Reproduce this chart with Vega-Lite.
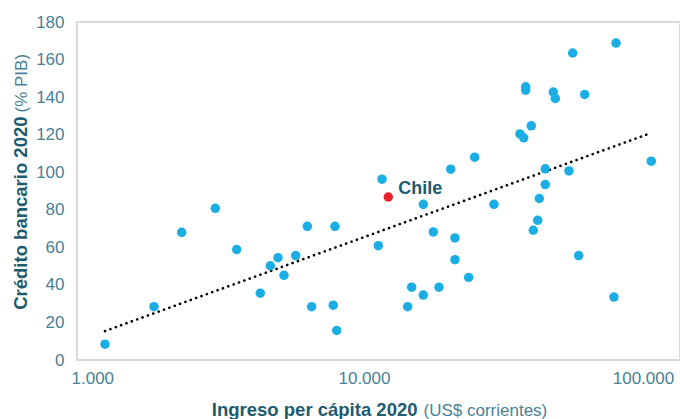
{
  "$schema": "https://vega.github.io/schema/vega-lite/v6.json",
  "width": 603,
  "height": 338,
  "autosize": {"type": "none"},
  "padding": {"left": 77, "top": 22, "right": 0, "bottom": 59},
  "background": "white",
  "config": {
    "font": "Liberation Sans",
    "view": {"stroke": "#d9d9d9", "strokeWidth": 2},
    "axis": {
      "labelFont": "Liberation Sans",
      "titleFont": "Liberation Sans",
      "labelFontSize": 17,
      "labelColor": "#4a8196",
      "gridColor": "#dadada",
      "gridWidth": 1.5,
      "ticks": false,
      "domain": false
    }
  },
  "data": {
    "values": [
      {"grupo": "Otros", "ingreso": 1260, "credito": 8.4},
      {"grupo": "Otros", "ingreso": 1888, "credito": 28.4},
      {"grupo": "Otros", "ingreso": 2373, "credito": 68},
      {"grupo": "Otros", "ingreso": 3131, "credito": 80.8},
      {"grupo": "Otros", "ingreso": 3736, "credito": 58.8},
      {"grupo": "Otros", "ingreso": 4539, "credito": 35.6},
      {"grupo": "Otros", "ingreso": 4930, "credito": 50.2},
      {"grupo": "Otros", "ingreso": 5253, "credito": 54.5},
      {"grupo": "Otros", "ingreso": 5520, "credito": 45.1},
      {"grupo": "Otros", "ingreso": 6080, "credito": 55.6},
      {"grupo": "Otros", "ingreso": 6690, "credito": 71.2},
      {"grupo": "Otros", "ingreso": 6937, "credito": 28.4},
      {"grupo": "Otros", "ingreso": 8290, "credito": 29.2},
      {"grupo": "Otros", "ingreso": 8408, "credito": 71.2},
      {"grupo": "Otros", "ingreso": 8527, "credito": 15.7},
      {"grupo": "Otros", "ingreso": 12020, "credito": 60.9},
      {"grupo": "Otros", "ingreso": 12395, "credito": 96.3},
      {"grupo": "Chile", "ingreso": 13055, "credito": 86.8},
      {"grupo": "Otros", "ingreso": 15320, "credito": 28.4},
      {"grupo": "Otros", "ingreso": 15830, "credito": 38.8},
      {"grupo": "Otros", "ingreso": 17430, "credito": 34.6},
      {"grupo": "Otros", "ingreso": 17430, "credito": 82.9},
      {"grupo": "Otros", "ingreso": 18930, "credito": 68.2},
      {"grupo": "Otros", "ingreso": 19840, "credito": 38.8},
      {"grupo": "Otros", "ingreso": 21850, "credito": 101.6},
      {"grupo": "Otros", "ingreso": 22640, "credito": 65},
      {"grupo": "Otros", "ingreso": 22640, "credito": 53.4},
      {"grupo": "Otros", "ingreso": 25340, "credito": 44},
      {"grupo": "Otros", "ingreso": 26630, "credito": 108},
      {"grupo": "Otros", "ingreso": 31230, "credito": 82.9},
      {"grupo": "Otros", "ingreso": 38700, "credito": 120.4},
      {"grupo": "Otros", "ingreso": 39920, "credito": 118.3},
      {"grupo": "Otros", "ingreso": 40580, "credito": 145.5},
      {"grupo": "Otros", "ingreso": 40580, "credito": 143.7},
      {"grupo": "Otros", "ingreso": 42490, "credito": 124.7},
      {"grupo": "Otros", "ingreso": 43200, "credito": 69.1},
      {"grupo": "Otros", "ingreso": 44800, "credito": 74.4},
      {"grupo": "Otros", "ingreso": 45400, "credito": 86},
      {"grupo": "Otros", "ingreso": 47700, "credito": 101.8},
      {"grupo": "Otros", "ingreso": 47700, "credito": 93.4},
      {"grupo": "Otros", "ingreso": 50950, "credito": 142.7},
      {"grupo": "Otros", "ingreso": 51800, "credito": 139.3},
      {"grupo": "Otros", "ingreso": 58000, "credito": 100.7},
      {"grupo": "Otros", "ingreso": 59800, "credito": 163.5},
      {"grupo": "Otros", "ingreso": 62850, "credito": 55.6},
      {"grupo": "Otros", "ingreso": 66020, "credito": 141.4},
      {"grupo": "Otros", "ingreso": 84070, "credito": 33.5},
      {"grupo": "Otros", "ingreso": 85500, "credito": 168.8},
      {"grupo": "Otros", "ingreso": 114400, "credito": 105.9}
    ]
  },
  "layer": [
    {
      "transform": [{"regression": "credito", "on": "ingreso", "method": "log"}],
      "mark": {"type": "line", "color": "black", "strokeWidth": 2.6, "strokeDash": [0.1, 5.6], "strokeCap": "round"},
      "encoding": {
        "x": {
          "field": "ingreso", "type": "quantitative",
          "scale": {"type": "log", "domain": [1000, 145000], "nice": false},
          "axis": {
            "orient": "bottom", "labels": false, "grid": false,
            "title": "(US$ corrientes)", "titleFontWeight": "normal", "titleFontSize": 17,
            "titleColor": "#4a8196", "titleAlign": "left", "titleAnchor": null,
            "titleX": 346, "titleY": 55, "titleBaseline": "alphabetic"
          }
        },
        "y": {
          "field": "credito", "type": "quantitative",
          "scale": {"domain": [0, 180], "nice": false},
          "axis": {
            "orient": "left", "labels": false, "grid": false,
            "title": "(% PIB)", "titleFontWeight": "normal", "titleFontSize": 17,
            "titleColor": "#4a8196", "titleAlign": "left", "titleAngle": -90,
            "titleX": -51, "titleY": 90, "titleBaseline": "alphabetic"
          }
        }
      }
    },
    {
      "mark": {"type": "circle", "size": 90, "opacity": 1},
      "encoding": {
        "x": {
          "field": "ingreso", "type": "quantitative",
          "axis": {
            "orient": "bottom", "values": [1000, 10000, 100000],
            "labelExpr": "replace(format(datum.value, ',d'), ',', '.')",
            "labelPadding": 10, "labelOffset": 8, "labelFlush": true, "labelFlushOffset": 14,
            "title": "Ingreso per cápita 2020", "titleFontWeight": "bold", "titleFontSize": 18.5,
            "titleColor": "#1d5b6f", "titleAlign": "right", "titleAnchor": null,
            "titleX": 340, "titleY": 55, "titleBaseline": "alphabetic"
          }
        },
        "y": {
          "field": "credito", "type": "quantitative",
          "axis": {
            "orient": "left", "values": [0, 20, 40, 60, 80, 100, 120, 140, 160, 180],
            "labelPadding": 13,
            "title": "Crédito bancario 2020", "titleFontWeight": "bold", "titleFontSize": 18.5,
            "titleColor": "#1d5b6f", "titleAlign": "right", "titleAngle": -90,
            "titleX": -51, "titleY": 94, "titleBaseline": "alphabetic"
          }
        },
        "color": {
          "condition": {"test": "datum.grupo === 'Chile'", "value": "#e8202a"},
          "value": "#1aaee4"
        }
      }
    },
    {
      "transform": [{"filter": "datum.grupo === 'Chile'"}],
      "mark": {"type": "text", "align": "left", "baseline": "middle", "dx": 10, "dy": -8,
               "fontSize": 18, "fontWeight": "bold", "color": "#1d5b6f", "font": "Liberation Sans"},
      "encoding": {
        "x": {"field": "ingreso", "type": "quantitative", "axis": null},
        "y": {"field": "credito", "type": "quantitative", "axis": null},
        "text": {"field": "grupo"}
      }
    }
  ],
  "resolve": {"axis": {"x": "independent", "y": "independent"}}
}
